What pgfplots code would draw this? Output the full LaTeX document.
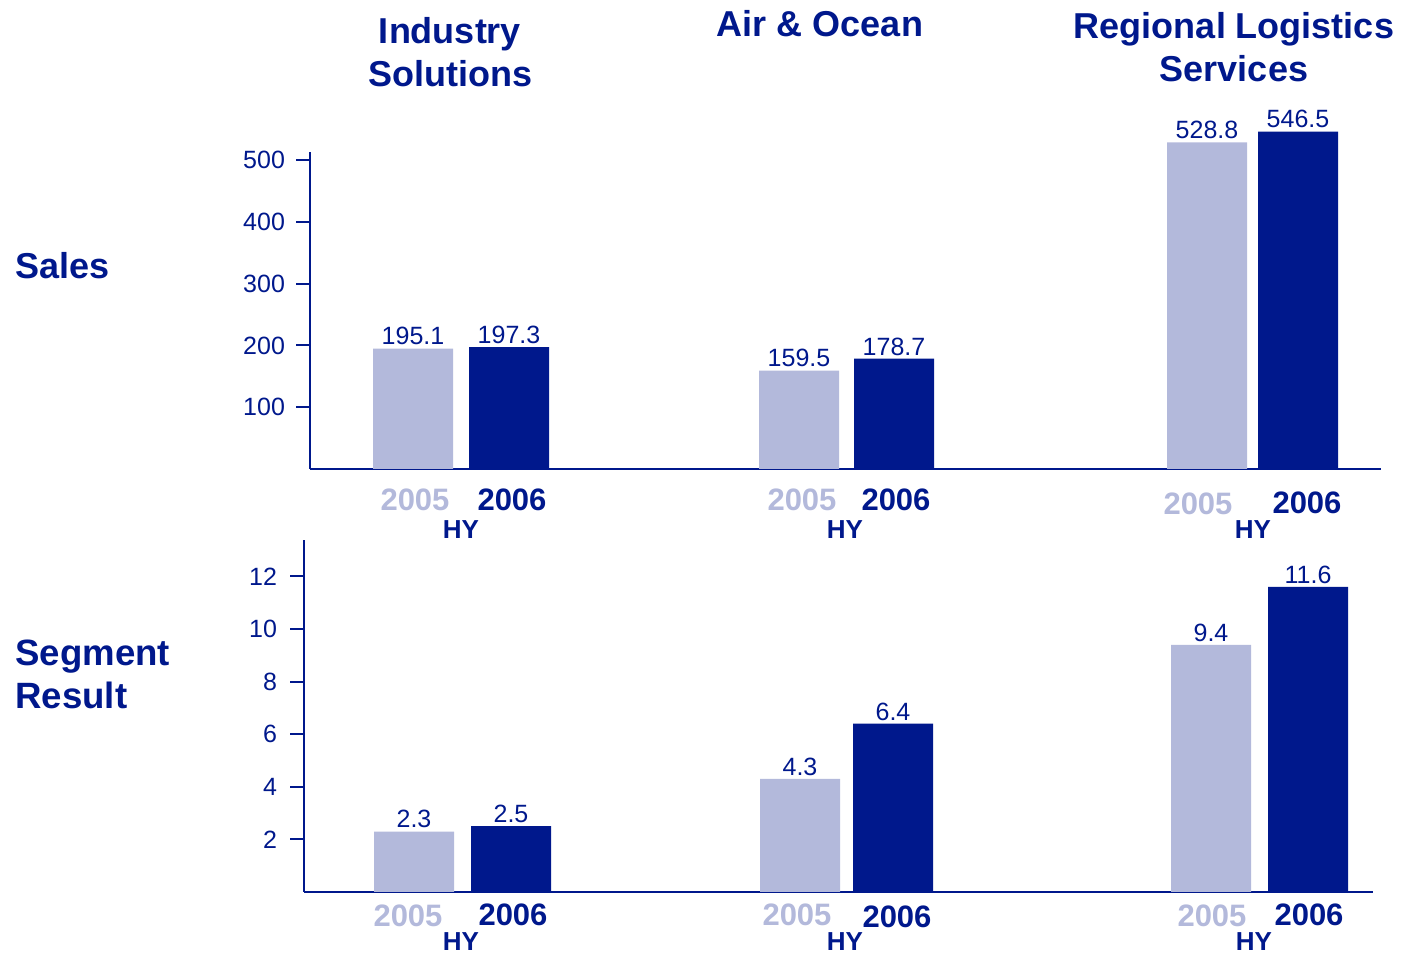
\documentclass[border=0pt]{standalone}
\usepackage{fontspec}
\setmainfont{Liberation Sans}
\usepackage{pgfplots}
\pgfplotsset{compat=1.18}
\definecolor{dk}{RGB}{0,24,140}
\definecolor{lt}{RGB}{179,185,219}
\pgfplotsset{
  mybars/.style={
    x=0.5pt,
    anchor=south west,
    axis x line*=bottom, axis y line*=left,
    axis line style={-, line width=1pt, dk},
    xtick=\empty,
    ytick style={dk, line width=1pt},
    tick align=outside, major tick length=7pt,
    yticklabel style={font=\fontsize{12.5}{14}\selectfont, text=dk},
    /pgf/number format/assume math mode=true,
    clip=false, enlargelimits=false,
  },
  bars/.style={ybar, bar width=40pt, bar shift=0pt, draw=none,
    nodes near coords={\pgfmathprintnumber[fixed,fixed zerofill,precision=1,assume math mode=true]{\pgfplotspointmeta}},
    nodes near coords style={font=\fontsize{12.5}{14}\selectfont, text=dk, inner sep=1.5pt},
  },
}
\begin{document}
\begin{tikzpicture}
\path (0,0) rectangle (705pt,-478pt);
% Sales
\begin{axis}[mybars, at={(155pt,-234.5pt)}, y=0.30875pt,
  xmin=310, xmax=1381, ymin=0, ymax=513,
  ytick={100,200,300,400,500}, yticklabel style={xshift=-2pt}]
\addplot[bars, fill=lt] coordinates {(413,195.1) (799,159.5) (1207,528.8)};
\addplot[bars, fill=dk] coordinates {(509,197.3) (894,178.7) (1298,546.5)};
\end{axis}
% Segment result
\begin{axis}[mybars, at={(152pt,-446pt)}, y=13.15pt,
  xmin=304, xmax=1373, ymin=0, ymax=13.38,
  ytick={2,4,6,8,10,12}, yticklabel style={xshift=-3pt}]
\addplot[bars, fill=lt] coordinates {(414,2.3) (800,4.3) (1211,9.4)};
\addplot[bars, fill=dk] coordinates {(511,2.5) (893,6.4) (1308,11.6)};
\end{axis}
\begin{scope}[x=0.5pt,y=-0.5pt, every node/.style={text=dk, inner sep=0pt}]
\tikzset{ttl/.style={font=\fontsize{18}{21.5}\selectfont\bfseries, align=center}}
\node[ttl] at (450,52) {Industry\\Solutions};
\node[ttl] at (820,24) {Air \& Ocean};
\node[ttl] at (1234,47) {Regional Logistics\\Services};
\node[ttl, anchor=west] at (15,266) {Sales};
\node[font=\fontsize{18.3}{21.5}\selectfont\bfseries, align=left, anchor=west] at (15,674) {Segment\\Result};
\tikzset{yr/.style={font=\fontsize{15.5}{17}\selectfont\bfseries},
         hy/.style={font=\fontsize{13}{15}\selectfont\bfseries}}
% top
\node[yr, text=lt] at (415,500) {2005};
\node[yr] at (512,500) {2006};
\node[hy] at (461,530) {HY};
\node[yr, text=lt] at (802,500) {2005};
\node[yr] at (896,500) {2006};
\node[hy] at (845,530) {HY};
\node[yr, text=lt] at (1198,504) {2005};
\node[yr] at (1307,503) {2006};
\node[hy] at (1253,530) {HY};
% bottom
\node[yr, text=lt] at (408,916) {2005};
\node[yr] at (513,915) {2006};
\node[hy] at (461,942) {HY};
\node[yr, text=lt] at (797,915) {2005};
\node[yr] at (897,917) {2006};
\node[hy] at (845,942) {HY};
\node[yr, text=lt] at (1212,916) {2005};
\node[yr] at (1309,915) {2006};
\node[hy] at (1254,942) {HY};
\end{scope}
\end{tikzpicture}
\end{document}
